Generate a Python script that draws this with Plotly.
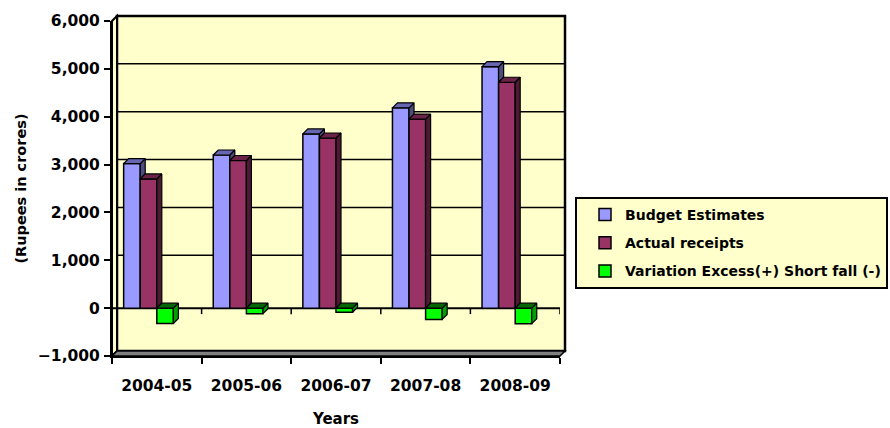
import plotly.graph_objects as go

# ---- data ----
years = ["2004-05", "2005-06", "2006-07", "2007-08", "2008-09"]
budget_estimates = [3020, 3200, 3640, 4185, 5045]
actual_receipts = [2700, 3085, 3555, 3950, 4720]
variation = [-320, -115, -85, -235, -325]
series_names = ["Budget Estimates", "Actual receipts", "Variation Excess(+) Short fall (-)"]
y_ticks = [-1000, 0, 1000, 2000, 3000, 4000, 5000, 6000]

# ---- styling ----
FONT = "DejaVu Sans"
front_colors = ["#9999FF", "#993366", "#00FF00"]
top_colors = ["#6666B3", "#6B2447", "#006600"]
side_colors = ["#4D4D80", "#4D1A33", "#00A000"]

W, H = 890, 428
ML, MR, MT, MB = 112, 330, 21, 72
PW, PH = W - ML - MR, H - MT - MB
YMIN, YMAX = -1000, 6000
XMIN, XMAX = -0.5, len(years) - 0.5

DEPTH_PX = 5
dx = DEPTH_PX * (XMAX - XMIN) / PW
dy = DEPTH_PX * (YMAX - YMIN) / PH

bar_w = 0.185
offsets = [-0.37, -0.185, 0.0]

values = [budget_estimates, actual_receipts, variation]
xs = list(range(len(years)))


def px(xp):
    return (xp - ML) / PW


def py(yp):
    return (H - MB - yp) / PH


fig = go.Figure()

# front faces (real bars)
for s, vals in enumerate(values):
    fig.add_trace(go.Bar(
        x=xs, y=vals, offset=offsets[s], width=bar_w,
        name=series_names[s], legendgroup=f"g{s}",
        marker=dict(color=front_colors[s], line=dict(color="black", width=1.5)),
    ))

# 3D top and side faces computed from the data
for s, vals in enumerate(values):
    tx, ty, sx, sy = [], [], [], []
    for i, v in enumerate(vals):
        x0 = i + offsets[s]
        x1 = x0 + bar_w
        t = max(v, 0)
        tx += [x0, x0 + dx, x1 + dx, x1, x0, None]
        ty += [t, t + dy, t + dy, t, t, None]
        lo, hi = min(v, 0), max(v, 0)
        if s + 1 < len(values):
            vn = values[s + 1][i]
            nlo, nhi = min(vn, 0), max(vn, 0)
            if nlo <= lo:
                lo = max(lo, nhi)
        if lo < hi:
            sx += [x1, x1, x1 + dx, x1 + dx, x1, None]
            sy += [lo, hi, hi + dy, lo + dy, lo, None]
    fig.add_trace(go.Scatter(x=sx, y=sy, mode="lines", fill="toself",
                             fillcolor=side_colors[s],
                             line=dict(color="black", width=1.2),
                             showlegend=False, hoverinfo="skip"))
    fig.add_trace(go.Scatter(x=tx, y=ty, mode="lines", fill="toself",
                             fillcolor=top_colors[s],
                             line=dict(color="black", width=1.2),
                             showlegend=False, hoverinfo="skip"))

shapes = []
# back wall
shapes.append(dict(type="rect", xref="paper", yref="paper", layer="below",
                   x0=px(ML + DEPTH_PX), x1=px(ML + PW + DEPTH_PX),
                   y0=py(H - MB - DEPTH_PX), y1=py(MT - DEPTH_PX),
                   fillcolor="#FFFFCC", line=dict(color="black", width=2.5)))
# left wall
shapes.append(dict(type="path", xref="paper", yref="paper", layer="below",
                   path=f"M{px(ML)},{py(MT)} L{px(ML+DEPTH_PX)},{py(MT-DEPTH_PX)} "
                        f"L{px(ML+DEPTH_PX)},{py(H-MB-DEPTH_PX)} L{px(ML)},{py(H-MB)} Z",
                   fillcolor="#FFFFCC", line=dict(color="black", width=2)))
# floor
shapes.append(dict(type="path", xref="paper", yref="paper", layer="below",
                   path=f"M{px(ML)},{py(H-MB)} L{px(ML+DEPTH_PX)},{py(H-MB-DEPTH_PX)} "
                        f"L{px(ML+PW+DEPTH_PX)},{py(H-MB-DEPTH_PX)} L{px(ML+PW)},{py(H-MB)} Z",
                   fillcolor="#808080", line=dict(color="black", width=1.5)))
# gridlines on the back wall
for v in y_ticks:
    if 0 < v < YMAX:
        yp = H - MB - (v - YMIN) * PH / (YMAX - YMIN) - DEPTH_PX
        shapes.append(dict(type="line", xref="paper", yref="paper", layer="below",
                           x0=px(ML + DEPTH_PX), x1=px(ML + PW + DEPTH_PX),
                           y0=py(yp), y1=py(yp),
                           line=dict(color="black", width=1.5)))
# category axis at zero
shapes.append(dict(type="line", xref="paper", yref="y", layer="below",
                   x0=0, x1=1, y0=0, y1=0, line=dict(color="black", width=2)))
for b in [i + 0.5 for i in range(len(years))]:
    shapes.append(dict(type="line", xref="x", yref="y", ysizemode="pixel", yanchor=0,
                       x0=b, x1=b, y0=0, y1=-6, line=dict(color="black", width=1.5)))

fig.update_layout(
    width=W, height=H,
    margin=dict(l=ML, r=MR, t=MT, b=MB, autoexpand=False),
    paper_bgcolor="white", plot_bgcolor="rgba(0,0,0,0)",
    barmode="overlay",
    shapes=shapes,
    showlegend=True,
    legend=dict(xref="container", yref="container",
                x=575 / W, y=(H - 197) / H, xanchor="left", yanchor="top",
                bgcolor="#FFFFCC", bordercolor="black", borderwidth=2,
                font=dict(family=FONT, size=14, color="black", weight="bold"),
                tracegroupgap=7, indentation=8),
    xaxis=dict(range=[XMIN, XMAX], tickmode="array", tickvals=xs, ticktext=years,
               ticks="", showgrid=False, zeroline=False, automargin=False,
               showline=True, linecolor="black", linewidth=2,
               tickfont=dict(family=FONT, size=15.5, color="black", weight="bold"),
               ticklabelstandoff=14,
               minor=dict(tickmode="array", tickvals=[i - 0.5 for i in range(len(years) + 1)],
                          ticks="outside", ticklen=6, tickwidth=1.5, tickcolor="black",
                          showgrid=False),
               title=dict(text="Years", standoff=21,
                          font=dict(family=FONT, size=15, color="black", weight="bold"))),
    yaxis=dict(range=[YMIN, YMAX], tickmode="array", tickvals=y_ticks,
               tickformat=",", ticks="outside", ticklen=6, tickwidth=1.5, tickcolor="black",
               showgrid=False, zeroline=False, automargin=False,
               showline=True, linecolor="black", linewidth=2,
               tickfont=dict(family=FONT, size=15.5, color="black", weight="bold"),
               ticklabelstandoff=1,
               title=dict(text="(Rupees in crores)", standoff=8,
                          font=dict(family=FONT, size=14.5, color="black", weight="bold"))),
)

fig.write_html("out.html",
               config={"displayModeBar": False},
               post_script="document.body.style.margin='0';document.body.style.padding='0';window.dispatchEvent(new Event('resize'));")
